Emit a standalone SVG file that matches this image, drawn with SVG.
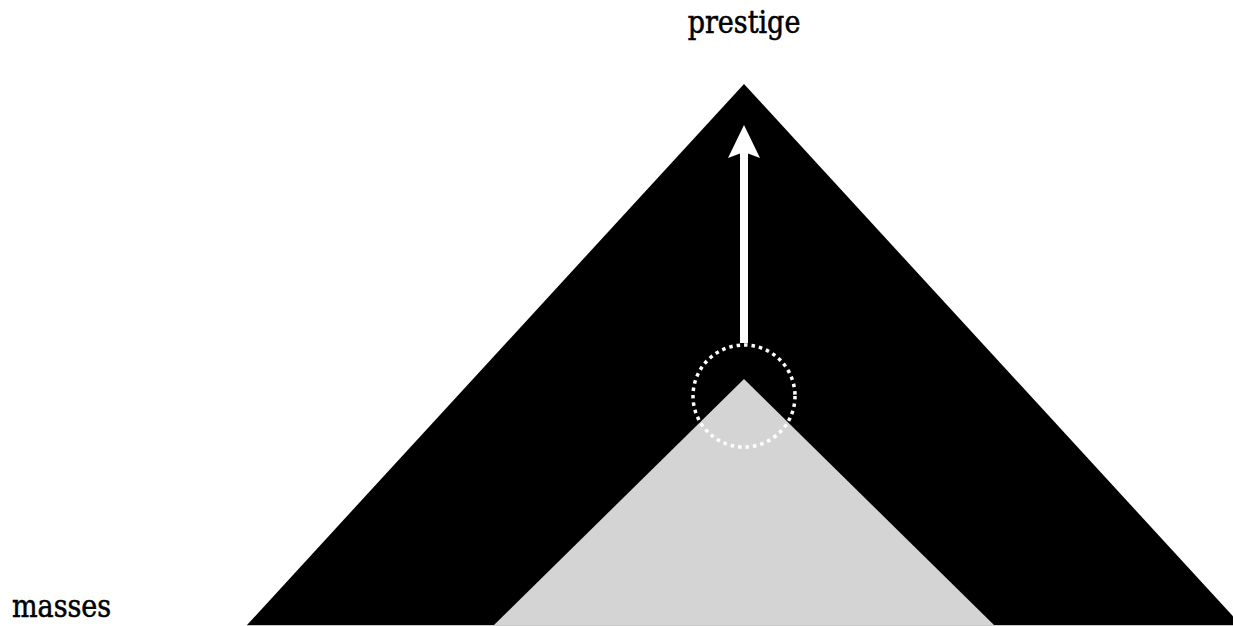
<svg xmlns="http://www.w3.org/2000/svg" width="1233" height="626" viewBox="0 0 1233 626">
<style>
.lbl{font-family:"DejaVu Serif","Liberation Serif",serif;font-size:27px;fill:#000;stroke:#000;stroke-width:0.5;}
</style>
<rect width="1233" height="626" fill="#fff"/>
<g id="outer"><polygon points="744,84 247,625 1241,625" fill="#000"/></g>
<g id="inner"><polygon points="744,379 494,625 994,625" fill="#d4d4d4"/></g>
<line x1="247" y1="625.5" x2="1233" y2="625.5" stroke="#c8c8c8" stroke-width="1"/>
<g id="focus"><circle cx="744" cy="396" r="51" fill="none" stroke="#fff" stroke-width="3.5" stroke-dasharray="3.5 4"/></g>
<g id="connectors">
<line x1="744" y1="343" x2="744" y2="150" stroke="#fff" stroke-width="8"/>
<polygon points="744,125 760,158 744,152 728,158" fill="#fff"/>
</g>
<g id="label-prestige"><text class="lbl" x="744" y="29" text-anchor="middle" transform="scale(1,1.14)">prestige</text></g>
<g id="label-masses"><text class="lbl" x="12" y="541.5" transform="scale(1,1.14)">masses</text></g>
</svg>
